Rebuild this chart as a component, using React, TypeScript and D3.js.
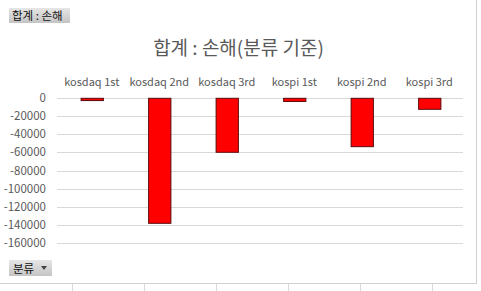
import React from "react";
import * as d3 from "d3";

const categories = ["kosdaq 1st", "kosdaq 2nd", "kosdaq 3rd", "kospi 1st", "kospi 2nd", "kospi 3rd"];
const losses = [-2500, -138500, -59800, -3500, -53600, -12200];
const yTicks = [0, -20000, -40000, -60000, -80000, -100000, -120000, -140000, -160000];
const title = "합계 : 손해(분류 기준)";
const fieldButton = "합계 : 손해";
const axisButton = "분류";

const W = 481;
const H = 291;
const FONT = "'Noto Sans CJK KR', 'Noto Sans', sans-serif";
const TXT = "#595959";

export default function App() {
  const x = d3.scaleBand<string>().domain(categories).range([58, 463]).paddingInner(0.67).paddingOuter(0.335);
  const y = d3.scaleLinear().domain([0, -160000]).range([98.3, 242.7]);
  const sheetCols = [72, 144, 216, 288, 360, 432];

  return (
    <svg width={W} height={H} style={{ position: "absolute", left: 0, top: 0, display: "block" }} fontFamily={FONT}>
      <defs>
        <linearGradient id="btn" x1="0" y1="0" x2="0" y2="1">
          <stop offset="0" stopColor="#e6e6e6" />
          <stop offset="1" stopColor="#c4c4c4" />
        </linearGradient>
      </defs>
      <rect x={0} y={0} width={W} height={H} fill="#ffffff" />
      {/* spreadsheet grid below chart */}
      {sheetCols.map((c) => (
        <line key={c} x1={c + 0.5} x2={c + 0.5} y1={284} y2={H} stroke="#d9d9d9" />
      ))}
      <line x1={0} x2={476} y1={283.5} y2={283.5} stroke="#d0d0d0" />
      <line x1={476.5} x2={476.5} y1={0} y2={284} stroke="#d0d0d0" />
      {/* gridlines */}
      {yTicks.map((t) => (
        <g key={t}>
          <line x1={57} x2={463} y1={Math.round(y(t)) + 0.5} y2={Math.round(y(t)) + 0.5} stroke="#d9d9d9" />
          <text x={46} y={y(t) + 4} textAnchor="end" fontSize={11.5} fill={TXT}>
            {t}
          </text>
        </g>
      ))}
      {/* bars */}
      {categories.map((c, i) => (
        <rect
          key={c}
          x={(x(c) as number) + 0.5}
          y={y(0)}
          width={x.bandwidth()}
          height={y(losses[i]) - y(0)}
          fill="#ff0000"
          stroke="#5a0a0a"
          strokeWidth={1}
        />
      ))}
      {/* category labels */}
      {categories.map((c) => (
        <text key={c} x={(x(c) as number) + x.bandwidth() / 2} y={86} textAnchor="middle" fontSize={11} fill={TXT}>
          {c}
        </text>
      ))}
      {/* title */}
      <text x={238.5} y={55} textAnchor="middle" fontSize={19} fill={TXT}>
        {title}
      </text>
      {/* field buttons */}
      <rect x={9} y={8} width={61} height={15} fill="url(#btn)" />
      <text x={12} y={19.5} fontSize={11.5} fill="#111">
        {fieldButton}
      </text>
      <rect x={9} y={260} width={43} height={16} fill="url(#btn)" />
      <text x={13} y={272.5} fontSize={11.5} fill="#111">
        {axisButton}
      </text>
      <path d="M41,266 L47,266 L44,270 Z" fill="#444" />
    </svg>
  );
}
